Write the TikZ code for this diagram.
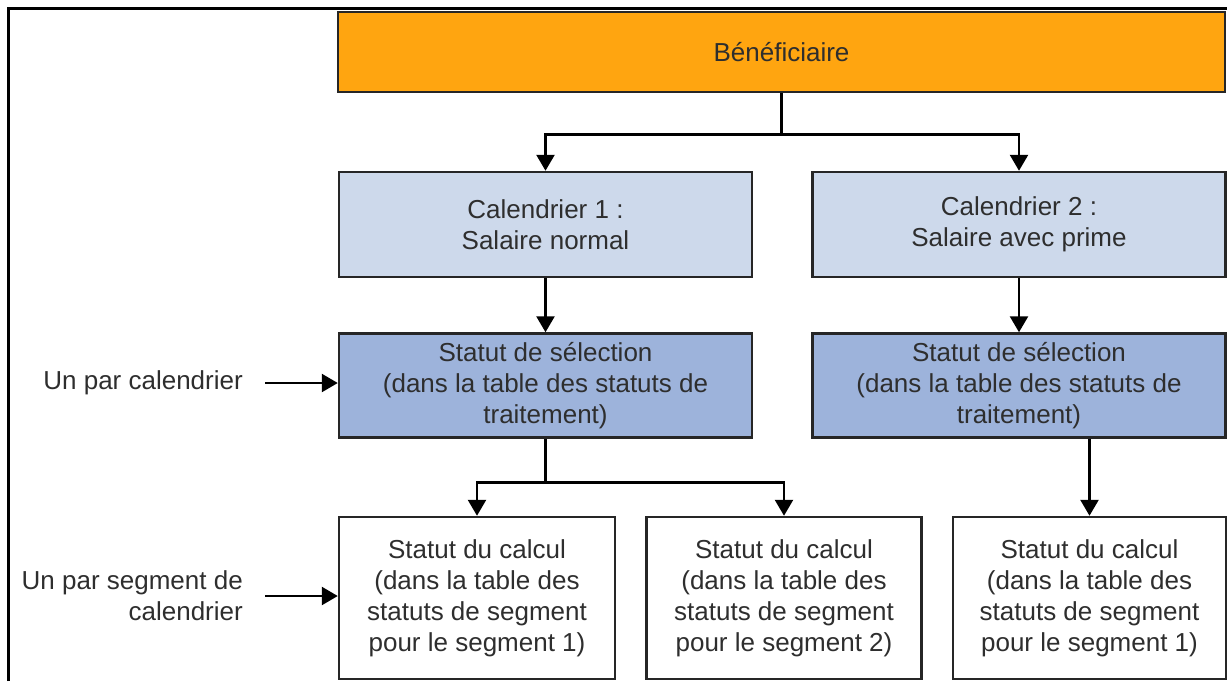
\documentclass[tikz,border=0pt]{standalone}
\usepackage{fontspec}
\setmainfont{Liberation Sans}
\usetikzlibrary{positioning,arrows.meta,calc}
\definecolor{benorange}{HTML}{FFA510}
\definecolor{calblue}{HTML}{CDD9EB}
\definecolor{selblue}{HTML}{9DB3DB}
\definecolor{textgrey}{HTML}{2E2E2E}

\begin{document}
\begin{tikzpicture}[x=1pt, y=-1pt, font=\fontsize{26}{31}\selectfont,
    box/.style={draw=black!85, line width=2.5pt, align=center, text=textgrey, inner sep=0pt},
    lbl/.style={text=textgrey, inner sep=0pt, align=right, anchor=east},
    arr/.style={-{Triangle[length=16pt, width=18pt]}, line width=2.6pt, black}]
  \useasboundingbox (0,0) rectangle (1227,681);
  \draw[line width=3pt] (8,681) -- (8,8) -- (1227,8);

  \node[box, fill=benorange, minimum width=887pt, minimum height=80pt]
       (benef) at (781.5,52) {Bénéficiaire};
  \node[box, fill=calblue, minimum width=413pt, minimum height=105pt]
       (cal1) at (545.5,224.5) {Calendrier 1 :\\Salaire normal};
  \node[box, fill=calblue, minimum width=413pt, minimum height=105pt, right=58pt of cal1]
       (cal2) {Calendrier 2 :\\Salaire avec prime};
  \node[box, fill=selblue, minimum width=413pt, minimum height=104pt, below=54pt of cal1]
       (sel1) {Statut de sélection\\(dans la table des statuts de\\traitement)};
  \node[box, fill=selblue, minimum width=413pt, minimum height=104pt, below=54pt of cal2]
       (sel2) {Statut de sélection\\(dans la table des statuts de\\traitement)};
  \node[box, fill=white, minimum width=276pt, minimum height=162pt]
       (seg1) at (477,598) {Statut du calcul\\(dans la table des\\statuts de segment\\pour le segment 1)};
  \node[box, fill=white, minimum width=275pt, minimum height=162pt, right=29pt of seg1]
       (seg2) {Statut du calcul\\(dans la table des\\statuts de segment\\pour le segment 2)};
  \node[box, fill=white, minimum width=273pt, minimum height=162pt, right=29pt of seg2]
       (seg3) {Statut du calcul\\(dans la table des\\statuts de segment\\pour le segment 1)};

  \node[lbl] (perCal) at (243,383) {Un par calendrier};
  \node[lbl] (perSeg) at (243,596) {Un par segment de\\calendrier};

  \draw[arr] (benef.south) -- ++(0,41) -| (cal1.north);
  \draw[arr] (benef.south) -- ++(0,41) -| (cal2.north);
  \draw[arr] (cal1) -- (sel1);
  \draw[arr] (cal2) -- (sel2);
  \draw[arr] (sel1.south) -- ++(0,44) -| (seg1.north);
  \draw[arr] (sel1.south) -- ++(0,44) -| (seg2.north);
  \draw[arr] (seg3.north |- sel2.south) -- (seg3.north);
  \draw[arr] ([xshift=22pt]perCal.east) -- (sel1.west |- perCal.east);
  \draw[arr] ([xshift=22pt]perSeg.east) -- (seg1.west |- perSeg.east);
\end{tikzpicture}
\end{document}
